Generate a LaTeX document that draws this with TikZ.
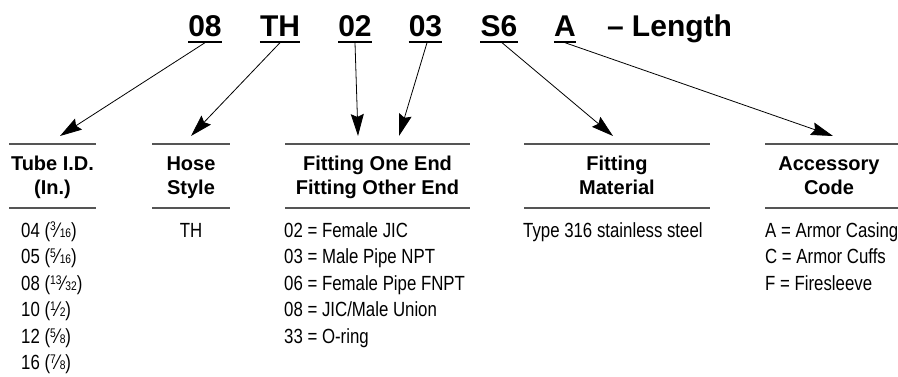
\documentclass[tikz,border=0pt]{standalone}
\usepackage{fontspec}
\setmainfont{Liberation Sans}
\newfontfamily\narrowfont[FakeStretch=0.82]{Liberation Sans}
\usetikzlibrary{arrows.meta}
\definecolor{rulegray}{RGB}{85,85,85}
\newcommand\frc[2]{\raisebox{0.3em}{\fontsize{12.5}{12.5}\selectfont #1}\kern0.03em{\fontsize{21}{21}\selectfont ⁄}\kern0.02em{\fontsize{12.5}{12.5}\selectfont #2}}
\tikzset{
  code/.style={inner sep=0pt, anchor=base, font=\bfseries\fontsize{30}{30}\selectfont},
  uline/.style={line width=2pt, black},
  arr/.style={line width=0.8pt, -{Stealth[length=22pt,width=13pt,inset=3pt]}},
  colrule/.style={line width=2pt, rulegray},
  head/.style={inner sep=0pt, anchor=base, font=\bfseries\fontsize{20}{24.5}\selectfont},
  body/.style={inner sep=0pt, anchor=base west, font=\narrowfont\fontsize{20.5}{26.6}\selectfont},
}
\begin{document}
\begin{tikzpicture}[x=1pt,y=-1pt]
\useasboundingbox (0,0) rectangle (898,377);
% code line
\node[code] (c08) at (205,36.7) {08};
\node[code] (cth) at (280,36.7) {TH};
\node[code] (c02) at (355,36.7) {02};
\node[code] (c03) at (425.5,36.7) {03};
\node[code] (cs6) at (499,36.7) {S6};
\node[code] (ca) at (565,36.7) {A};
\node[code] (clen) at (669.5,36.7) {– Length};
\foreach \n in {c08,cth,c02,c03,cs6,ca}{
  \draw[uline] ([yshift=-5pt]\n.base west) -- ([yshift=-5pt]\n.base east);
}
% arrow tips
\coordinate (t1) at (60,136);
\coordinate (t2) at (191,136);
\coordinate (t3a) at (358,136);
\coordinate (t3b) at (399,136);
\coordinate (t4) at (613,136);
\coordinate (t5) at (833,136);
\draw[arr] ([yshift=-6pt]c08.base) -- (t1);
\draw[arr] ([yshift=-6pt]cth.base) -- (t2);
\draw[arr] ([yshift=-6pt]c02.base) -- (t3a);
\draw[arr] ([yshift=-6pt,xshift=1.5pt]c03.base) -- (t3b);
\draw[arr] ([yshift=-6pt,xshift=3pt]cs6.base) -- (t4);
\draw[arr] ([yshift=-6pt]ca.base) -- (t5);
% column rules
\foreach \a/\b in {9/96,152/230,285/470,524/710,765/898}{
  \draw[colrule] (\a,144) -- (\b,144);
  \draw[colrule] (\a,207.7) -- (\b,207.7);
}
% headers
\node[head] (h1) at (52.5,170.5) {\begin{tabular}[t]{@{}c@{}}Tube I.D.\\(In.)\end{tabular}};
\node[head] (h2) at (191,170.5) {\begin{tabular}[t]{@{}c@{}}Hose\\Style\end{tabular}};
\node[head] (h3) at (377.5,170.5) {\begin{tabular}[t]{@{}c@{}}Fitting One End\\Fitting Other End\end{tabular}};
\node[head] (h4) at (617,170.5) {\begin{tabular}[t]{@{}c@{}}Fitting\\Material\end{tabular}};
\node[head] (h5) at (829,170.5) {\begin{tabular}[t]{@{}c@{}}Accessory\\Code\end{tabular}};
% bodies
\node[body] (b1) at (21,237) {\begin{tabular}[t]{@{}l@{}}04 (\frc{3}{16})\\05 (\frc{5}{16})\\08 (\frc{13}{32})\\10 (\frc{1}{2})\\12 (\frc{5}{8})\\16 (\frc{7}{8})\end{tabular}};
\node[body, anchor=base] (b2) at (191,237) {TH};
\node[body] (b3) at (284,237) {\begin{tabular}[t]{@{}l@{}}02 = Female JIC\\03 = Male Pipe NPT\\06 = Female Pipe FNPT\\08 = JIC/Male Union\\33 = O-ring\end{tabular}};
\node[body] (b4) at (523,237) {Type 316 stainless steel};
\node[body] (b5) at (765,237) {\begin{tabular}[t]{@{}l@{}}A = Armor Casing\\C = Armor Cuffs\\F = Firesleeve\end{tabular}};
\end{tikzpicture}
\end{document}
